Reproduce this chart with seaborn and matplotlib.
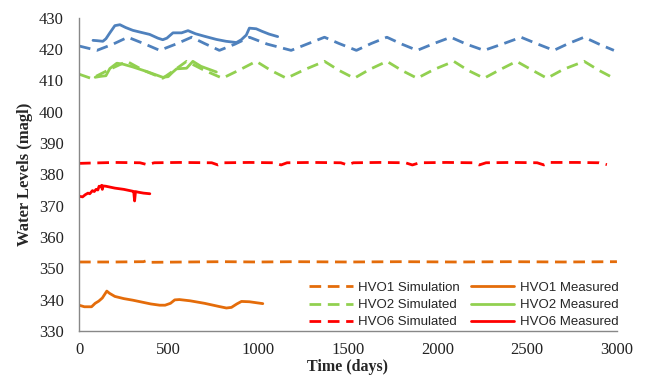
import pandas as pd
import matplotlib
matplotlib.use("Agg")
import matplotlib.pyplot as plt
import seaborn as sns

# ---------------- data ----------------
# simulated series (days, water level in magl)
hvo1_sim_t = [0, 200, 360, 380, 400, 600, 800, 1000, 1200, 1500, 1800, 2100, 2400, 2700, 3000]
hvo1_sim_y = [352.0, 352.0, 352.1, 352.5, 351.9, 352.0, 352.1, 352.0, 352.1, 352.0, 352.1, 352.0, 352.1, 352.0, 352.1]

hvo2_sim_t = [0, 70, 170, 267, 360, 467, 530, 600, 700, 800, 900, 988, 1070, 1157, 1260, 1369,
              1450, 1535, 1620, 1717, 1800, 1886, 1980, 2090, 2170, 2259, 2350, 2440, 2530,
              2610, 2700, 2817, 2900, 2983]
hvo2_sim_y = [412.0, 410.6, 413.5, 416.1, 413.2, 410.7, 413.2, 416.1, 413.2, 410.7, 413.5, 416.1,
              413.2, 410.7, 413.5, 416.1, 413.2, 410.7, 413.5, 416.1, 413.2, 410.7, 413.5, 416.1,
              413.2, 410.7, 413.5, 416.1, 413.2, 410.7, 413.5, 416.1, 413.2, 410.7]

hvo6_sim_t = [0, 60, 200, 340, 380, 420, 560, 740, 775, 810, 950, 1090, 1127, 1160, 1300, 1460,
              1497, 1530, 1680, 1820, 1859, 1900, 2050, 2195, 2232, 2270, 2420, 2555, 2593, 2630,
              2780, 2900, 2944]
hvo6_sim_y = [383.5, 383.6, 383.8, 383.7, 383.1, 383.7, 383.8, 383.7, 383.0, 383.7, 383.8, 383.7,
              383.0, 383.7, 383.8, 383.7, 383.0, 383.7, 383.8, 383.7, 383.0, 383.7, 383.8, 383.7,
              383.0, 383.7, 383.8, 383.7, 383.0, 383.8, 383.8, 383.7, 383.1]

# unlabelled blue well
blue_sim_t = [0, 100, 190, 272, 360, 450, 540, 628, 700, 783, 870, 950, 1050, 1183, 1280, 1369,
              1450, 1547, 1630, 1717, 1800, 1886, 1980, 2073, 2160, 2259, 2370, 2465, 2550,
              2648, 2730, 2817, 2900, 2983]
blue_sim_y = [421.0, 419.6, 421.6, 423.8, 421.8, 419.6, 421.6, 423.8, 421.8, 419.6, 421.6, 423.8,
              421.6, 419.6, 421.8, 423.8, 421.8, 419.6, 421.8, 423.8, 421.6, 419.6, 421.8, 423.8,
              421.6, 419.6, 421.8, 423.8, 421.8, 419.6, 421.8, 423.8, 421.6, 419.6]

# measured series
hvo1_meas_t = [0, 30, 70, 90, 110, 130, 155, 170, 200, 250, 300, 350, 400, 450, 480, 510, 534,
               560, 620, 700, 780, 822, 850, 880, 906, 950, 1000, 1025]
hvo1_meas_y = [338.2, 337.7, 337.7, 338.8, 339.5, 340.5, 342.7, 342.0, 341.0, 340.3, 339.8, 339.2,
               338.6, 338.2, 338.2, 338.8, 339.9, 340.0, 339.6, 338.8, 337.8, 337.3, 337.5, 338.6,
               339.4, 339.3, 338.9, 338.7]

hvo2_meas_t = [90, 120, 150, 172, 211, 245, 300, 380, 467, 497, 520, 544, 600, 635, 680, 766]
hvo2_meas_y = [411.0, 411.3, 411.5, 413.8, 415.5, 415.2, 414.3, 412.8, 411.0, 411.2, 412.5, 413.7,
               413.9, 416.1, 414.5, 412.7]

hvo6_meas_t = [0, 20, 35, 50, 60, 75, 85, 95, 105, 112, 120, 126, 130, 134, 150, 200, 250, 300,
               305, 310, 315, 330, 360, 395]
hvo6_meas_y = [373.0, 372.8, 373.5, 374.0, 373.8, 374.8, 374.5, 375.2, 375.0, 376.2, 376.0, 376.5,
               375.2, 376.3, 376.2, 375.6, 375.2, 374.6, 374.5, 371.5, 374.5, 374.3, 374.0, 373.8]

blue_meas_t = [78, 100, 133, 150, 172, 200, 228, 260, 300, 350, 394, 440, 467, 490, 524, 572, 608,
               650, 700, 766, 820, 878, 905, 933, 950, 988, 1020, 1060, 1108]
blue_meas_y = [422.8, 422.7, 422.5, 423.3, 425.2, 427.5, 427.8, 426.9, 426.0, 425.3, 424.7, 423.5,
               423.0, 423.5, 425.2, 425.2, 425.9, 424.9, 424.1, 423.1, 422.5, 422.1, 423.0, 424.5,
               426.7, 426.5, 425.7, 424.8, 424.0]

# ---------------- plotting ----------------
sns.set_style("white")
plt.rcParams["font.family"] = ["Liberation Serif", "DejaVu Serif"]

orange = "#E46C0A"
green = "#92D050"
red = "#FF0000"
blue = "#4F81BD"
dash = (0, (4.2, 2.4))

fig = plt.figure(figsize=(6.45, 3.79), dpi=100)
ax = fig.add_axes([0.1225, 0.127, 0.834, 0.826])

sns.lineplot(x=blue_sim_t, y=blue_sim_y, ax=ax, color=blue, lw=2, linestyle=dash, label="_nolegend_")
sns.lineplot(x=blue_meas_t, y=blue_meas_y, ax=ax, color=blue, lw=2, label="_nolegend_")

sns.lineplot(x=hvo1_sim_t, y=hvo1_sim_y, ax=ax, color=orange, lw=2, linestyle=dash, label="HVO1 Simulation")
sns.lineplot(x=hvo2_sim_t, y=hvo2_sim_y, ax=ax, color=green, lw=2, linestyle=dash, label="HVO2 Simulated")
sns.lineplot(x=hvo6_sim_t, y=hvo6_sim_y, ax=ax, color=red, lw=2, linestyle=dash, label="HVO6 Simulated")
sns.lineplot(x=hvo1_meas_t, y=hvo1_meas_y, ax=ax, color=orange, lw=2, label="HVO1 Measured")
sns.lineplot(x=hvo2_meas_t, y=hvo2_meas_y, ax=ax, color=green, lw=2, label="HVO2 Measured")
sns.lineplot(x=hvo6_meas_t, y=hvo6_meas_y, ax=ax, color=red, lw=2, label="HVO6 Measured")

ax.set_xlim(0, 3000)
ax.set_ylim(330, 430)
ax.set_xticks(range(0, 3001, 500))
ax.set_yticks(range(330, 431, 10))
ax.tick_params(axis="y", length=0, labelsize=12, pad=11, colors="#222222")
ax.tick_params(axis="x", length=0, labelsize=12, pad=8, colors="#222222")

for s in ["top", "right"]:
    ax.spines[s].set_visible(False)
for s in ["left", "bottom"]:
    ax.spines[s].set_color("#888888")
    ax.spines[s].set_linewidth(1)

ax.set_xlabel("Time (days)", fontsize=11.5, fontweight="bold", labelpad=0.5)
ax.set_ylabel("Water Levels (magl)", fontsize=12, fontweight="bold", labelpad=4)

ax.legend(ncol=2, loc="lower right", bbox_to_anchor=(1.025, -0.03), frameon=False,
          prop={"family": "Liberation Sans", "size": 9.5}, handlelength=3.3,
          columnspacing=0.85, handletextpad=0.4, labelspacing=0.38)

fig.savefig("out.png", dpi=100)
